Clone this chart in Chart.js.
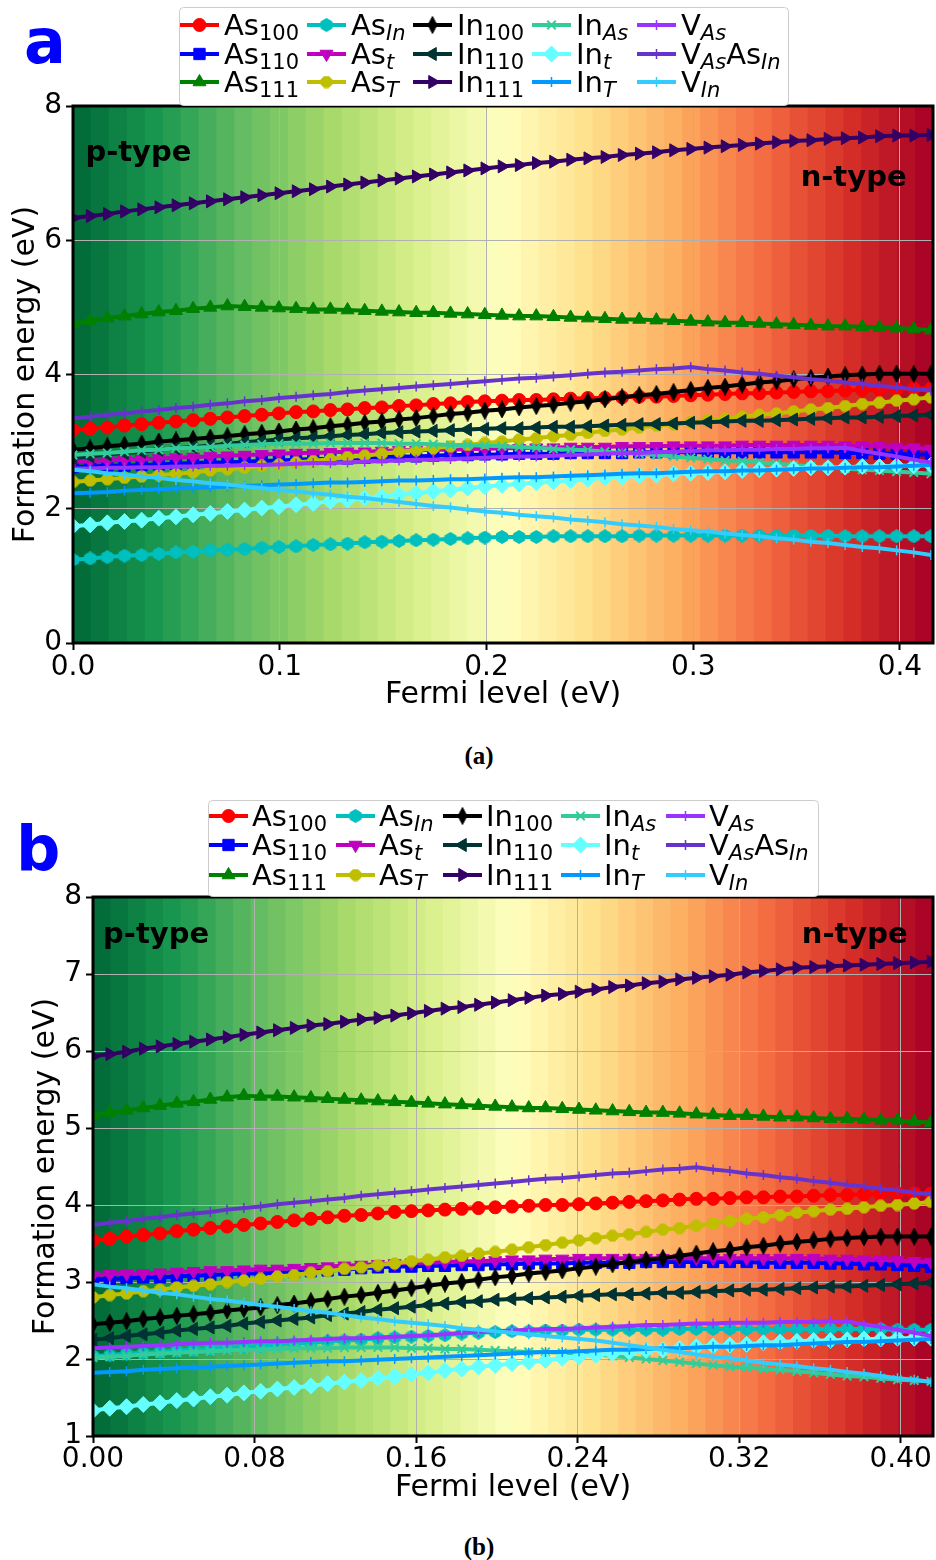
<!DOCTYPE html>
<html>
<head>
<meta charset="utf-8">
<script src="https://cdn.jsdelivr.net/npm/chart.js@4.4.1/dist/chart.umd.min.js"></script>
<style>
  html, body { margin: 0; padding: 0; background: #fff; }
  body { width: 936px; height: 1560px; position: relative; overflow: hidden; font-family: "DejaVu Sans", sans-serif; }
  canvas { position: absolute; left: 0; }
  #chartA { top: 0; }
  #chartB { top: 780px; }
  .panel { position: absolute; color: #0000ff; font-weight: bold; font-size: 62px; line-height: 1; }
  .cap { position: absolute; left: 429px; width: 100px; text-align: center; font-family: "Liberation Serif", serif; font-weight: bold; font-size: 25px; line-height: 1; }
</style>
</head>
<body>
<canvas id="chartA" width="936" height="720"></canvas>
<canvas id="chartB" width="936" height="740"></canvas>
<div class="panel" style="left:24px; top:11px;">a</div>
<div class="panel" style="left:16px; top:818px;">b</div>
<div class="cap" style="top:743px;">(a)</div>
<div class="cap" style="top:1534px;">(b)</div>

<script>
// --- données ---
const fermi = [0, 0.0083, 0.0166, 0.0249, 0.0332, 0.0415, 0.0498, 0.0581, 0.0664, 0.0747, 0.083,
  0.0913, 0.0996, 0.1079, 0.1162, 0.1245, 0.1328, 0.1411, 0.1494, 0.1577, 0.166,
  0.1743, 0.1826, 0.1909, 0.1992, 0.2075, 0.2158, 0.2241, 0.2324, 0.2407, 0.249,
  0.2573, 0.2656, 0.2739, 0.2822, 0.2905, 0.2988, 0.3071, 0.3154, 0.3237, 0.332,
  0.3403, 0.3486, 0.3569, 0.3652, 0.3735, 0.3818, 0.3901, 0.3984, 0.4067, 0.415];

const defectLabels = ['As_{100}', 'As_{110}', 'As_{111}', 'As_{In}', 'As_{t}', 'As_{T}',
  'In_{100}', 'In_{110}', 'In_{111}', 'In_{As}', 'In_{t}', 'In_{T}',
  'V_{As}', 'V_{As}As_{In}', 'V_{In}'];

const xTickValsA = [0, 0.1, 0.2, 0.3, 0.4];
const xTickLabelsA = ['0.0', '0.1', '0.2', '0.3', '0.4'];
const yTickValsA = [0, 2, 4, 6, 8];
const yTickLabelsA = ['0', '2', '4', '6', '8'];
const xTickValsB = [0, 0.08, 0.16, 0.24, 0.32, 0.40];
const xTickLabelsB = ['0.00', '0.08', '0.16', '0.24', '0.32', '0.40'];
const yTickValsB = [1, 2, 3, 4, 5, 6, 7, 8];
const yTickLabelsB = ['1', '2', '3', '4', '5', '6', '7', '8'];

// panel a
const as100A = [3.17,3.19,3.21,3.24,3.26,3.28,3.30,3.32,3.34,3.36,3.38,3.40,3.42,3.44,3.45,3.47,3.48,3.50,3.51,3.53,3.54,3.56,3.57,3.59,3.60,3.61,3.62,3.62,3.63,3.64,3.65,3.65,3.66,3.67,3.67,3.68,3.69,3.70,3.71,3.72,3.72,3.73,3.74,3.75,3.75,3.76,3.77,3.77,3.78,3.79,3.79];
const as110A = [2.62,2.63,2.64,2.64,2.65,2.66,2.67,2.68,2.69,2.69,2.70,2.71,2.72,2.73,2.74,2.74,2.75,2.76,2.77,2.78,2.78,2.79,2.80,2.80,2.81,2.81,2.82,2.82,2.82,2.83,2.83,2.83,2.83,2.84,2.84,2.84,2.84,2.84,2.84,2.84,2.84,2.84,2.84,2.84,2.84,2.83,2.83,2.82,2.82,2.81,2.81];
const as111A = [4.76,4.80,4.84,4.87,4.90,4.93,4.95,4.98,5.00,5.02,5.01,5.00,4.99,4.98,4.97,4.97,4.96,4.95,4.94,4.93,4.92,4.92,4.91,4.90,4.89,4.88,4.87,4.87,4.86,4.85,4.84,4.83,4.82,4.82,4.81,4.80,4.79,4.78,4.77,4.77,4.76,4.75,4.74,4.73,4.72,4.72,4.71,4.70,4.69,4.68,4.66];
const asInA = [1.24,1.26,1.28,1.30,1.31,1.33,1.35,1.36,1.38,1.39,1.40,1.42,1.43,1.44,1.46,1.47,1.48,1.50,1.51,1.52,1.53,1.54,1.55,1.56,1.57,1.58,1.58,1.58,1.59,1.59,1.59,1.59,1.59,1.60,1.60,1.60,1.60,1.60,1.60,1.60,1.60,1.60,1.60,1.60,1.60,1.59,1.59,1.59,1.59,1.59,1.59];
const astA = [2.70,2.71,2.72,2.73,2.74,2.75,2.76,2.77,2.78,2.79,2.80,2.81,2.82,2.83,2.83,2.84,2.85,2.85,2.86,2.87,2.87,2.88,2.88,2.89,2.89,2.90,2.90,2.91,2.91,2.92,2.92,2.92,2.93,2.93,2.93,2.94,2.94,2.94,2.94,2.95,2.95,2.95,2.95,2.95,2.95,2.94,2.94,2.93,2.92,2.91,2.89];
const asTA = [2.40,2.42,2.44,2.46,2.48,2.50,2.52,2.54,2.57,2.59,2.61,2.64,2.66,2.69,2.71,2.74,2.77,2.79,2.82,2.85,2.87,2.90,2.93,2.95,2.98,3.00,3.03,3.05,3.08,3.10,3.13,3.16,3.18,3.21,3.24,3.26,3.29,3.32,3.34,3.37,3.40,3.42,3.45,3.48,3.50,3.53,3.56,3.58,3.61,3.63,3.66];
const in100A = [2.88,2.90,2.93,2.95,2.97,3.00,3.02,3.04,3.06,3.08,3.11,3.13,3.15,3.18,3.20,3.23,3.25,3.28,3.30,3.33,3.35,3.38,3.41,3.43,3.46,3.48,3.51,3.53,3.55,3.58,3.60,3.63,3.66,3.69,3.71,3.74,3.77,3.80,3.82,3.85,3.88,3.90,3.93,3.95,3.97,3.99,4.00,4.01,4.01,4.01,4.01];
const in110A = [2.76,2.78,2.81,2.83,2.85,2.88,2.90,2.92,2.94,2.97,2.99,3.01,3.03,3.05,3.06,3.08,3.10,3.11,3.13,3.14,3.15,3.16,3.17,3.18,3.19,3.20,3.20,3.21,3.22,3.22,3.23,3.24,3.25,3.26,3.26,3.27,3.28,3.29,3.30,3.31,3.31,3.32,3.33,3.34,3.35,3.36,3.36,3.37,3.38,3.39,3.40];
const in111A = [6.33,6.36,6.39,6.43,6.46,6.49,6.52,6.55,6.58,6.61,6.64,6.67,6.70,6.73,6.76,6.80,6.83,6.86,6.89,6.92,6.95,6.98,7.01,7.04,7.07,7.10,7.12,7.15,7.17,7.20,7.22,7.24,7.27,7.29,7.31,7.34,7.36,7.38,7.40,7.42,7.44,7.46,7.48,7.49,7.51,7.52,7.53,7.55,7.56,7.56,7.57];
const inAsA = [2.80,2.82,2.83,2.85,2.87,2.88,2.90,2.91,2.92,2.94,2.95,2.96,2.97,2.97,2.97,2.98,2.98,2.98,2.98,2.97,2.97,2.96,2.95,2.95,2.94,2.93,2.92,2.91,2.89,2.88,2.87,2.85,2.83,2.82,2.80,2.78,2.76,2.74,2.72,2.71,2.69,2.67,2.65,2.63,2.62,2.60,2.58,2.57,2.55,2.54,2.52];
const intA = [1.74,1.76,1.79,1.81,1.83,1.86,1.88,1.91,1.93,1.96,1.98,2.01,2.03,2.06,2.08,2.11,2.13,2.16,2.18,2.21,2.23,2.26,2.28,2.31,2.33,2.35,2.37,2.39,2.40,2.42,2.44,2.46,2.47,2.49,2.50,2.52,2.53,2.54,2.55,2.57,2.58,2.59,2.60,2.61,2.61,2.62,2.63,2.63,2.64,2.64,2.65];
const inTA = [2.23,2.24,2.25,2.27,2.28,2.29,2.30,2.31,2.32,2.33,2.34,2.35,2.36,2.37,2.38,2.39,2.39,2.40,2.41,2.42,2.42,2.43,2.44,2.44,2.45,2.46,2.47,2.47,2.48,2.49,2.50,2.51,2.52,2.53,2.53,2.54,2.55,2.56,2.56,2.57,2.57,2.58,2.59,2.60,2.60,2.61,2.62,2.62,2.63,2.64,2.65];
const vAsA = [2.60,2.60,2.61,2.61,2.62,2.62,2.63,2.63,2.64,2.64,2.65,2.65,2.66,2.67,2.68,2.68,2.69,2.70,2.71,2.72,2.73,2.73,2.74,2.75,2.76,2.77,2.78,2.78,2.79,2.80,2.81,2.82,2.83,2.83,2.84,2.85,2.86,2.87,2.87,2.88,2.88,2.89,2.89,2.90,2.90,2.91,2.86,2.82,2.78,2.73,2.69];
const vAsAsInA = [3.35,3.37,3.40,3.42,3.45,3.47,3.50,3.52,3.55,3.57,3.60,3.62,3.65,3.67,3.69,3.71,3.74,3.76,3.78,3.80,3.82,3.84,3.86,3.88,3.90,3.92,3.94,3.95,3.97,3.99,4.01,4.03,4.04,4.06,4.08,4.09,4.11,4.08,4.06,4.03,4.01,3.98,3.96,3.93,3.91,3.88,3.86,3.83,3.81,3.78,3.76];
const vInA = [2.58,2.56,2.53,2.51,2.48,2.46,2.43,2.41,2.38,2.36,2.33,2.31,2.28,2.26,2.23,2.21,2.18,2.16,2.13,2.10,2.07,2.04,2.02,1.99,1.96,1.94,1.91,1.89,1.87,1.84,1.82,1.80,1.77,1.75,1.73,1.70,1.68,1.66,1.63,1.61,1.59,1.56,1.54,1.51,1.49,1.46,1.43,1.41,1.38,1.35,1.31];

// panel b
const as100B = [3.54,3.56,3.59,3.61,3.63,3.66,3.68,3.70,3.72,3.74,3.76,3.78,3.80,3.82,3.84,3.86,3.87,3.89,3.91,3.92,3.93,3.94,3.95,3.96,3.97,3.98,3.99,4.00,4.00,4.01,4.02,4.03,4.04,4.05,4.06,4.07,4.08,4.08,4.09,4.10,4.10,4.11,4.11,4.12,4.13,4.13,4.14,4.14,4.15,4.15,4.15];
const as110B = [3.03,3.04,3.05,3.06,3.06,3.07,3.08,3.09,3.10,3.11,3.11,3.12,3.13,3.14,3.15,3.16,3.18,3.19,3.20,3.20,3.21,3.21,3.22,3.22,3.23,3.23,3.24,3.24,3.24,3.25,3.25,3.25,3.25,3.26,3.26,3.26,3.26,3.26,3.26,3.26,3.25,3.25,3.25,3.25,3.24,3.24,3.23,3.23,3.22,3.21,3.20];
const as111B = [5.17,5.20,5.23,5.26,5.29,5.32,5.34,5.37,5.40,5.42,5.41,5.41,5.40,5.39,5.38,5.37,5.36,5.35,5.34,5.33,5.32,5.31,5.30,5.29,5.28,5.27,5.26,5.26,5.25,5.24,5.23,5.22,5.21,5.20,5.20,5.19,5.18,5.17,5.16,5.16,5.15,5.14,5.14,5.13,5.12,5.12,5.11,5.10,5.10,5.08,5.07];
const asInB = [2.04,2.05,2.07,2.08,2.09,2.11,2.12,2.13,2.15,2.16,2.17,2.19,2.20,2.21,2.23,2.24,2.25,2.27,2.28,2.29,2.30,2.31,2.33,2.34,2.35,2.36,2.36,2.37,2.37,2.38,2.38,2.38,2.38,2.38,2.38,2.39,2.39,2.39,2.39,2.39,2.39,2.39,2.39,2.39,2.39,2.39,2.39,2.39,2.38,2.38,2.38];
const astB = [3.09,3.10,3.11,3.11,3.12,3.13,3.14,3.15,3.15,3.16,3.17,3.17,3.18,3.19,3.20,3.21,3.22,3.23,3.24,3.25,3.25,3.26,3.27,3.27,3.28,3.29,3.29,3.30,3.30,3.31,3.31,3.31,3.31,3.31,3.31,3.31,3.31,3.31,3.31,3.31,3.31,3.31,3.31,3.31,3.30,3.30,3.29,3.29,3.28,3.27,3.26];
const asTB = [2.80,2.83,2.85,2.88,2.90,2.93,2.95,2.97,3.00,3.02,3.04,3.07,3.09,3.12,3.14,3.17,3.19,3.22,3.24,3.27,3.29,3.32,3.34,3.37,3.39,3.42,3.45,3.48,3.51,3.54,3.57,3.60,3.62,3.65,3.68,3.70,3.73,3.76,3.79,3.82,3.84,3.87,3.90,3.92,3.94,3.95,3.97,3.99,4.00,4.02,4.04];
const in100B = [2.45,2.47,2.49,2.52,2.54,2.56,2.58,2.60,2.63,2.65,2.67,2.70,2.72,2.75,2.78,2.81,2.83,2.86,2.89,2.92,2.95,2.98,3.00,3.03,3.06,3.08,3.11,3.13,3.15,3.18,3.20,3.23,3.26,3.29,3.31,3.34,3.37,3.40,3.42,3.45,3.47,3.50,3.52,3.54,3.56,3.57,3.58,3.59,3.59,3.59,3.59];
const in110B = [2.25,2.27,2.30,2.32,2.34,2.37,2.39,2.41,2.43,2.46,2.48,2.50,2.52,2.54,2.57,2.59,2.61,2.64,2.66,2.68,2.70,2.72,2.74,2.75,2.77,2.78,2.79,2.80,2.81,2.82,2.83,2.84,2.84,2.85,2.86,2.86,2.87,2.88,2.89,2.90,2.90,2.91,2.92,2.93,2.94,2.94,2.95,2.96,2.97,2.98,2.99];
const in111B = [5.93,5.96,5.99,6.03,6.06,6.09,6.12,6.15,6.18,6.21,6.24,6.27,6.30,6.33,6.35,6.38,6.41,6.43,6.46,6.49,6.52,6.55,6.57,6.60,6.63,6.66,6.69,6.72,6.74,6.77,6.80,6.83,6.85,6.88,6.90,6.93,6.95,6.97,6.99,7.02,7.04,7.06,7.08,7.09,7.10,7.11,7.12,7.13,7.14,7.15,7.16];
const inAsB = [2.02,2.03,2.04,2.06,2.07,2.08,2.09,2.10,2.11,2.12,2.12,2.13,2.14,2.14,2.14,2.15,2.15,2.15,2.15,2.14,2.14,2.13,2.13,2.12,2.11,2.10,2.09,2.09,2.08,2.07,2.06,2.04,2.02,2.00,1.98,1.96,1.94,1.92,1.90,1.89,1.87,1.86,1.84,1.82,1.80,1.78,1.77,1.75,1.73,1.72,1.71];
const intB = [1.33,1.36,1.38,1.41,1.43,1.46,1.48,1.51,1.53,1.56,1.58,1.61,1.63,1.65,1.68,1.70,1.72,1.75,1.77,1.80,1.82,1.85,1.87,1.90,1.92,1.94,1.96,1.98,2.01,2.03,2.05,2.07,2.09,2.11,2.12,2.14,2.16,2.17,2.18,2.19,2.21,2.22,2.23,2.24,2.24,2.25,2.26,2.26,2.27,2.27,2.27];
const inTB = [1.82,1.83,1.84,1.86,1.87,1.88,1.89,1.90,1.91,1.92,1.93,1.94,1.95,1.96,1.97,1.97,1.98,1.99,2.00,2.01,2.02,2.03,2.04,2.05,2.06,2.07,2.08,2.09,2.09,2.10,2.11,2.12,2.12,2.13,2.14,2.14,2.15,2.16,2.16,2.17,2.18,2.18,2.19,2.20,2.21,2.22,2.22,2.23,2.24,2.25,2.26];
const vAsB = [2.14,2.15,2.16,2.17,2.18,2.19,2.20,2.21,2.21,2.22,2.23,2.23,2.24,2.25,2.26,2.27,2.27,2.28,2.29,2.30,2.31,2.32,2.34,2.35,2.36,2.37,2.38,2.39,2.39,2.40,2.41,2.42,2.43,2.44,2.44,2.45,2.46,2.46,2.47,2.47,2.47,2.48,2.48,2.48,2.49,2.49,2.45,2.42,2.38,2.34,2.30];
const vAsAsInB = [3.74,3.77,3.79,3.82,3.84,3.87,3.89,3.91,3.94,3.96,3.98,4.01,4.03,4.05,4.07,4.09,4.12,4.14,4.16,4.18,4.20,4.22,4.24,4.26,4.28,4.30,4.32,4.34,4.35,4.37,4.39,4.41,4.42,4.44,4.46,4.47,4.49,4.46,4.44,4.41,4.39,4.36,4.34,4.31,4.29,4.26,4.24,4.21,4.19,4.16,4.14];
const vInB = [2.97,2.94,2.92,2.89,2.86,2.84,2.81,2.78,2.76,2.73,2.70,2.68,2.65,2.62,2.60,2.57,2.54,2.52,2.49,2.47,2.45,2.43,2.40,2.38,2.36,2.34,2.32,2.30,2.28,2.26,2.24,2.21,2.18,2.15,2.12,2.09,2.06,2.03,2.01,1.98,1.95,1.93,1.91,1.88,1.86,1.83,1.81,1.78,1.75,1.73,1.70];

// --- styles (ordre matplotlib : le dernier tracé passe au-dessus) ---
const styles = [
  { color: '#ff0000', marker: 'circle', r: 6.5 },
  { color: '#0000ff', marker: 'rect', r: 8 },
  { color: '#008000', marker: 'triangle', r: 7.5 },
  { color: '#00bfbf', marker: 'hexagon', w: 14, h: 14 },
  { color: '#bf00bf', marker: 'triangle', r: 7.5, rot: 180 },
  { color: '#bfbf00', marker: 'octagon', w: 13, h: 13 },
  { color: '#000000', marker: 'thinDiamond', w: 10, h: 18 },
  { color: '#003333', marker: 'triangle', r: 7.5, rot: 270 },
  { color: '#330066', marker: 'triangle', r: 7.5, rot: 90 },
  { color: '#33cc99', marker: 'crossRot', r: 6, bw: 2 },
  { color: '#66ffff', marker: 'rectRot', r: 8 },
  { color: '#0099ff', marker: 'line', r: 5, rot: 90, bw: 1.5 },
  { color: '#9933ff', marker: 'line', r: 5, rot: 90, bw: 1.5 },
  { color: '#6633cc', marker: 'line', r: 5, rot: 90, bw: 1.5 },
  { color: '#33ccff', marker: 'line', r: 5, rot: 90, bw: 1.5 }
];

// petites images pour les marqueurs que Chart.js n'a pas
function markerCanvas(shape, color, w, h) {
  const c = document.createElement('canvas');
  c.width = w; c.height = h;
  const g = c.getContext('2d');
  g.fillStyle = color; g.strokeStyle = color; g.lineWidth = 1;
  g.beginPath();
  if (shape === 'thinDiamond') {
    g.moveTo(w / 2, 0.5); g.lineTo(w - 0.5, h / 2); g.lineTo(w / 2, h - 0.5); g.lineTo(0.5, h / 2);
  } else {
    const n = shape === 'hexagon' ? 6 : 8;
    const off = shape === 'hexagon' ? -Math.PI / 2 : Math.PI / 8;
    const rr = Math.min(w, h) / 2 - 0.5;
    for (let k = 0; k < n; k++) {
      const t = off + k * 2 * Math.PI / n;
      const px = w / 2 + rr * Math.cos(t), py = h / 2 + rr * Math.sin(t);
      k ? g.lineTo(px, py) : g.moveTo(px, py);
    }
  }
  g.closePath(); g.fill(); g.stroke();
  return c;
}
styles.forEach(s => {
  s.style = (s.marker === 'hexagon' || s.marker === 'octagon' || s.marker === 'thinDiamond')
    ? markerCanvas(s.marker, s.color, s.w, s.h) : s.marker;
});

// RdYlGn inversé (vert -> jaune -> rouge)
const cmapStops = ['#006837', '#1a9850', '#66bd63', '#a6d96a', '#d9ef8b', '#ffffbf',
  '#fee08b', '#fdae61', '#f46d43', '#d73027', '#a50026'];
function hexRgb(h) { return [1, 3, 5].map(i => parseInt(h.substr(i, 2), 16)); }
function cmap(t) {
  const p = t * (cmapStops.length - 1);
  const i = Math.min(Math.floor(p), cmapStops.length - 2);
  const f = p - i;
  const a = hexRgb(cmapStops[i]), b = hexRgb(cmapStops[i + 1]);
  return 'rgb(' + a.map((v, k) => Math.round(v + (b[k] - v) * f)).join(',') + ')';
}

function parseLabel(s) {
  const out = [];
  s.replace(/_\{([^}]*)\}|([^_]+)/g, (m, sub, main) => {
    out.push(sub !== undefined ? { t: sub, sub: true } : { t: main, sub: false });
    return m;
  });
  return out;
}

const decor = {
  id: 'decor',
  beforeDraw(chart) {
    const { ctx, chartArea: a } = chart;
    const n = 48, w = (a.right - a.left) / n;
    ctx.save();
    for (let j = 0; j < n; j++) {
      ctx.fillStyle = cmap((j + 0.5) / n);
      ctx.fillRect(a.left + j * w, a.top, w + 1, a.bottom - a.top);
    }
    ctx.restore();
  },
  afterDatasetsDraw(chart, args, opts) {
    const { ctx, chartArea: a, scales } = chart;
    ctx.save();
    ctx.strokeStyle = '#000';
    ctx.lineWidth = 3;
    ctx.strokeRect(a.left, a.top, a.right - a.left, a.bottom - a.top);
    ctx.fillStyle = '#000';
    ctx.font = 'bold 29px "DejaVu Sans"';
    ctx.textAlign = 'left';
    ctx.textBaseline = 'alphabetic';
    opts.notes.forEach(nt => {
      ctx.fillText(nt.text, scales.x.getPixelForValue(nt.x), scales.y.getPixelForValue(nt.y));
    });
    ctx.restore();
  },
  afterDraw(chart, args, opts) {
    const { ctx } = chart;
    const L = opts.legend;
    const [x0, y0, x1, y1] = L.box;
    ctx.save();
    ctx.fillStyle = '#fff';
    ctx.strokeStyle = '#cccccc';
    ctx.lineWidth = 1;
    ctx.beginPath();
    if (ctx.roundRect) ctx.roundRect(x0 + 0.5, y0 + 0.5, x1 - x0, y1 - y0, 4);
    else ctx.rect(x0 + 0.5, y0 + 0.5, x1 - x0, y1 - y0);
    ctx.fill(); ctx.stroke();

    defectLabels.forEach((lab, k) => {
      const st = styles[k];
      const hx = L.cols[Math.floor(k / 3)], hy = L.rows[k % 3];
      ctx.strokeStyle = st.color; ctx.fillStyle = st.color;
      ctx.lineWidth = 4;
      ctx.beginPath(); ctx.moveTo(hx, hy); ctx.lineTo(hx + L.handle, hy); ctx.stroke();
      ctx.lineWidth = st.bw || 1;
      Chart.helpers.drawPoint(ctx, { pointStyle: st.style, rotation: st.rot || 0, radius: st.r || 7, borderWidth: st.bw || 1 }, hx + L.handle / 2, hy);

      ctx.fillStyle = '#000';
      ctx.textAlign = 'left'; ctx.textBaseline = 'alphabetic';
      let cx = hx + L.gap;
      const base = hy + 10;
      parseLabel(lab).forEach(p => {
        if (p.sub) {
          ctx.font = (/^\d+$/.test(p.t) ? '' : 'italic ') + '21px "DejaVu Sans"';
          ctx.fillText(p.t, cx, base + 5);
        } else {
          ctx.font = '29px "DejaVu Sans"';
          ctx.fillText(p.t, cx, base);
        }
        cx += ctx.measureText(p.t).width;
      });
    });
    ctx.restore();
  }
};

Chart.defaults.font.family = '"DejaVu Sans"';
Chart.defaults.color = '#000';

function makePanel(p) {
  const datasets = p.series.map((vals, k) => {
    const st = styles[k];
    return {
      label: defectLabels[k],
      data: vals.map((v, i) => ({ x: fermi[i], y: v })),
      borderColor: st.color,
      backgroundColor: st.color,
      borderWidth: 4,
      pointStyle: st.style,
      pointRadius: st.r || 7,
      pointHoverRadius: st.r || 7,
      pointRotation: st.rot || 0,
      pointBackgroundColor: st.color,
      pointBorderColor: st.color,
      pointBorderWidth: st.bw || 1,
      tension: 0,
      fill: false,
      clip: 0,
      order: p.series.length - k
    };
  });

  const grid = { color: '#b0b0b0', lineWidth: 1, tickColor: '#000', tickLength: 7, tickWidth: 2, drawTicks: true };

  new Chart(document.getElementById(p.canvas), {
    type: 'line',
    data: { datasets },
    options: {
      responsive: false,
      devicePixelRatio: 1,
      animation: false,
      events: [],
      layout: { autoPadding: false, padding: { top: p.top, right: 3, left: 0, bottom: 0 } },
      scales: {
        x: {
          type: 'linear', min: 0, max: 0.416,
          afterBuildTicks: s => { s.ticks = p.xTicks.map(v => ({ value: v })); },
          afterFit: s => { s.height = p.xHeight; },
          ticks: { callback: (v, i) => p.xLabels[i], font: { size: 28 }, color: '#000', padding: p.xTickPad, maxRotation: 0, minRotation: 0, autoSkip: false },
          grid: grid,
          border: { display: false },
          title: { display: true, text: 'Fermi level (eV)', font: { size: 30 }, color: '#000', padding: { top: 0, bottom: p.xTitlePad } }
        },
        y: {
          min: p.yMin, max: 8,
          afterBuildTicks: s => { s.ticks = p.yTicks.map(v => ({ value: v })); },
          afterFit: s => { s.width = p.yWidth; },
          ticks: { callback: (v, i) => p.yLabels[i], font: { size: 28 }, color: '#000', padding: 4, autoSkip: false },
          grid: grid,
          border: { display: false },
          title: { display: true, text: 'Formation energy (eV)', font: { size: 30 }, color: '#000', padding: { top: p.yTitlePad, bottom: 0 } }
        }
      },
      plugins: {
        legend: { display: false },
        tooltip: { enabled: false },
        decor: { legend: p.legend, notes: p.notes }
      }
    },
    plugins: [decor]
  });
}

makePanel({
  canvas: 'chartA',
  series: [as100A, as110A, as111A, asInA, astA, asTA, in100A, in110A, in111A, inAsA, intA, inTA, vAsA, vAsAsInA, vInA],
  xTicks: xTickValsA, xLabels: xTickLabelsA, yTicks: yTickValsA, yLabels: yTickLabelsA, yMin: 0,
  top: 106, yWidth: 73, xHeight: 77, xTickPad: 1, xTitlePad: 7, yTitlePad: 8,
  legend: { box: [179, 7, 788, 105], cols: [180, 307, 413, 532, 637], rows: [25, 54, 82], handle: 39, gap: 44 },
  notes: [{ text: 'p-type', x: 0.006, y: 7.18 }, { text: 'n-type', x: 0.352, y: 6.81 }]
});

makePanel({
  canvas: 'chartB',
  series: [as100B, as110B, as111B, asInB, astB, asTB, in100B, in110B, in111B, inAsB, intB, inTB, vAsB, vAsAsInB, vInB],
  xTicks: xTickValsB, xLabels: xTickLabelsB, yTicks: yTickValsB, yLabels: yTickLabelsB, yMin: 1,
  top: 117, yWidth: 93, xHeight: 84, xTickPad: 0, xTitlePad: 14, yTitlePad: 28,
  legend: { box: [208, 20, 818, 116], cols: [209, 336, 443, 561, 666], rows: [36, 65, 95], handle: 39, gap: 43 },
  notes: [{ text: 'p-type', x: 0.005, y: 7.40 }, { text: 'n-type', x: 0.351, y: 7.40 }]
});
</script>
</body>
</html>
